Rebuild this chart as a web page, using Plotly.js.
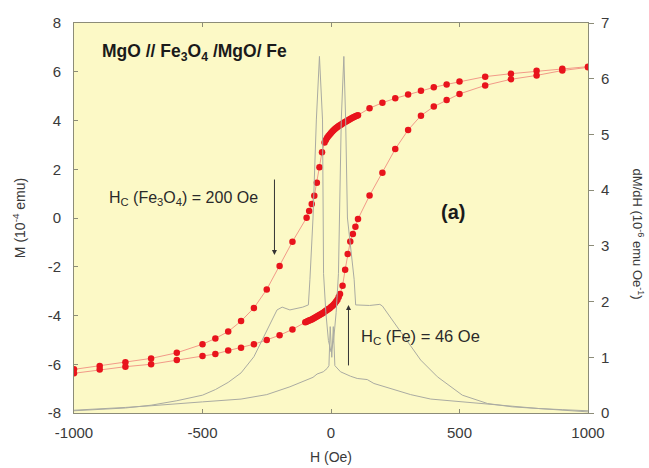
<!DOCTYPE html>
<html>
<head>
<meta charset="utf-8">
<script src="https://cdn.plot.ly/plotly-3.0.1.min.js"></script>
<style>html,body{margin:0;padding:0;background:#fff;}#chart{width:649px;height:468px;}</style>
</head>
<body>
<div id="chart"></div>
<script>
// Descending-field branch of M(H), 10^-4 emu
const hDown = [1000, 900, 800, 700, 600, 500, 450, 400, 350, 300, 250, 200, 150,
  105, 100, 95, 90, 85, 80, 75, 70, 65, 60, 55, 50, 45, 40, 35, 30, 25, 20, 15, 10, 5, 0, -5, -10, -15, -20, -25,
  -35, -45, -55, -65, -75, -85, -95, -150, -200, -250, -300, -350, -400, -450, -500, -600, -700, -800, -900, -1000];
const mDown = [6.21, 6.12, 6.04, 5.92, 5.80, 5.60, 5.48, 5.36, 5.22, 5.07, 4.91, 4.73, 4.50,
  4.22, 4.20, 4.17, 4.14, 4.12, 4.09, 4.06, 4.03, 4.00, 3.97, 3.94, 3.91, 3.88, 3.84, 3.81, 3.77, 3.73, 3.69, 3.65, 3.60, 3.55, 3.49, 3.43, 3.36, 3.29, 3.20, 3.10,
  2.70, 2.08, 1.45, 0.91, 0.57, 0.29, 0.01, -0.97, -1.97, -2.93, -3.69, -4.23, -4.66, -4.94, -5.18, -5.53, -5.76, -5.92, -6.07, -6.21];
// Ascending-field branch of M(H)
const hUp = [-1000, -900, -800, -700, -600, -500, -450, -400, -350, -300, -250, -200, -150,
  -100, -95, -90, -85, -80, -75, -70, -65, -60, -55, -50, -45, -40, -35, -30, -25, -20, -15, -10, -5, 0, 5, 10, 15, 20, 25, 30, 35,
  45, 55, 65, 75, 85, 95, 105, 150, 200, 250, 300, 350, 400, 450, 500, 600, 700, 800, 900, 1000];
const mUp = [-6.37, -6.22, -6.10, -6.00, -5.83, -5.66, -5.58, -5.44, -5.32, -5.18, -5.00, -4.81, -4.57,
  -4.28, -4.26, -4.23, -4.21, -4.18, -4.16, -4.13, -4.10, -4.07, -4.04, -4.01, -3.98, -3.95, -3.92, -3.89, -3.85, -3.81, -3.77, -3.73, -3.70, -3.65, -3.61, -3.56, -3.50, -3.43, -3.35, -3.24, -3.12,
  -2.78, -2.12, -1.48, -0.96, -0.66, -0.36, -0.04, 0.92, 1.86, 2.83, 3.61, 4.20, 4.57, 4.84, 5.09, 5.44, 5.69, 5.85, 6.05, 6.18];
// dM/dH curves, 10^-6 emu/Oe
const hDerivA = [-1000, -900, -800, -700, -600, -500, -450, -400, -350, -300, -250, -210, -190, -160, -110, -88, -82, -70, -57, -45, -33, -29, -20, -10, 0, 10, 20, 29, 40, 50, 57, 64, 90, 96, 150, 190, 200, 258, 303, 349, 414, 511, 609, 706, 809, 900, 1000];
const dDerivA = [0.04, 0.06, 0.09, 0.14, 0.22, 0.32, 0.42, 0.55, 0.72, 1.01, 1.49, 1.85, 1.90, 1.85, 1.90, 1.94, 2.4, 3.5, 5.26, 6.4, 5.26, 2.5, 1.8, 1.3, 1.1, 1.3, 1.8, 2.5, 5.26, 6.4, 5.26, 3.5, 2.4, 1.94, 1.93, 1.95, 1.92, 1.55, 1.25, 0.95, 0.65, 0.32, 0.17, 0.11, 0.08, 0.05, 0.02];
const hDerivB = [-1000, -900, -800, -700, -600, -500, -350, -250, -160, -100, -70, -54, -30, -15, -8, -3, 3, 9, 15, 37, 55, 76, 102, 141, 167, 219, 310, 388, 511, 609, 706, 809, 900, 1000];
const dDerivB = [0.05, 0.07, 0.10, 0.13, 0.17, 0.20, 0.25, 0.33, 0.47, 0.58, 0.64, 0.70, 0.74, 0.80, 0.85, 1.55, 1.00, 1.55, 0.85, 0.74, 0.70, 0.66, 0.62, 0.60, 0.53, 0.46, 0.33, 0.25, 0.20, 0.16, 0.12, 0.08, 0.06, 0.04];
// Tick labels (plain hyphen minus as in the original)
const xTicks = [-1000, -500, 0, 500, 1000];
const xTickText = ['-1000', '-500', '0', '500', '1000'];
const yTicks = [-8, -6, -4, -2, 0, 2, 4, 6, 8];
const yTickText = ['-8', '-6', '-4', '-2', '0', '2', '4', '6', '8'];
const y2Ticks = [0, 1, 2, 3, 4, 5, 6, 7];
const y2TickText = ['0', '1', '2', '3', '4', '5', '6', '7'];

const FONT = 'Liberation Sans, Arial, sans-serif';
const red = '#e8141c';
const gray = '#aaaba2';
const txt = '#3a3a3a';

const traces = [
  {x: hDerivA, y: dDerivA, yaxis: 'y2', type: 'scatter', mode: 'lines', line: {color: gray, width: 1}, hoverinfo: 'skip'},
  {x: hDerivB, y: dDerivB, yaxis: 'y2', type: 'scatter', mode: 'lines', line: {color: gray, width: 1}, hoverinfo: 'skip'},
  {x: hDown, y: mDown, type: 'scatter', mode: 'lines+markers', line: {color: '#f29a88', width: 1}, marker: {color: red, size: 6.5}},
  {x: hUp, y: mUp, type: 'scatter', mode: 'lines+markers', line: {color: '#f29a88', width: 1}, marker: {color: red, size: 6.5}}
];

const axisCommon = {
  showgrid: false, zeroline: false, showline: true, linecolor: '#8c8c78', linewidth: 1,
  ticks: 'inside', ticklen: 4, tickcolor: '#8c8c78',
  tickfont: {family: FONT, size: 15, color: txt}
};

const layout = {
  width: 649, height: 468,
  margin: {l: 74, r: 61, t: 23, b: 55},
  paper_bgcolor: '#ffffff', plot_bgcolor: '#fcf9c6',
  showlegend: false,
  font: {family: FONT, color: txt},
  xaxis: Object.assign({}, axisCommon, {range: [-1000, 1000], tickvals: xTicks, ticktext: xTickText, mirror: 'ticks',
    ticklabelstandoff: 6,
    title: {text: 'H (Oe)', font: {family: FONT, size: 14, color: txt}, standoff: 12}}),
  yaxis: Object.assign({}, axisCommon, {range: [-8, 8], tickvals: yTicks, ticktext: yTickText, mirror: true,
    ticklabelstandoff: 9,
    title: {text: 'M (10<sup>-4</sup> emu)', font: {family: FONT, size: 14, color: txt}, standoff: 18}}),
  yaxis2: Object.assign({}, axisCommon, {range: [0, 7], tickvals: y2Ticks, ticktext: y2TickText, overlaying: 'y', side: 'right',
    showline: false, ticks: 'outside', ticklen: 5, ticklabelstandoff: 4}),
  annotations: [
    {xref: 'x', yref: 'y', x: -899, y: 6.77, xanchor: 'left', yanchor: 'middle', showarrow: false,
     text: '<b>MgO // Fe<sub>3</sub>O<sub>4</sub> /MgO/ Fe</b>', font: {family: FONT, size: 17.5, color: '#1a1a1a'}},
    {xref: 'x', yref: 'y', x: -871, y: 0.82, xanchor: 'left', yanchor: 'middle', showarrow: false,
     text: 'H<sub>C</sub> (Fe<sub>3</sub>O<sub>4</sub>) = 200 Oe', font: {family: FONT, size: 16, color: '#2a2a2a'}},
    {xref: 'x', yref: 'y', x: 474, y: 0.25, xanchor: 'center', yanchor: 'middle', showarrow: false,
     text: '<b>(a)</b>', font: {family: FONT, size: 20, color: '#1a1a1a'}},
    {xref: 'x', yref: 'y', x: 107, y: -4.88, xanchor: 'left', yanchor: 'middle', showarrow: false,
     text: 'H<sub>C</sub> (Fe) = 46 Oe', font: {family: FONT, size: 16.5, color: '#2a2a2a'}},
    {xref: 'x', yref: 'y', x: -220, y: -1.52, axref: 'x', ayref: 'y', ax: -220, ay: 1.64, text: '', showarrow: true,
     arrowhead: 2, arrowsize: 1, arrowwidth: 1, arrowcolor: '#333333'},
    {xref: 'x', yref: 'y', x: 68, y: -3.57, axref: 'x', ayref: 'y', ax: 68, ay: -6.11, text: '', showarrow: true,
     arrowhead: 2, arrowsize: 1, arrowwidth: 1, arrowcolor: '#333333'},
    {xref: 'paper', yref: 'paper', x: 1.098, y: 0.459, xanchor: 'center', yanchor: 'middle', showarrow: false, textangle: 90,
     text: 'dM/dH (10<sup>-6</sup> emu Oe<sup>-1</sup>)', font: {family: FONT, size: 13, color: txt}}
  ]
};

Plotly.newPlot('chart', traces, layout, {displayModeBar: false, staticPlot: true});
</script>
</body>
</html>
